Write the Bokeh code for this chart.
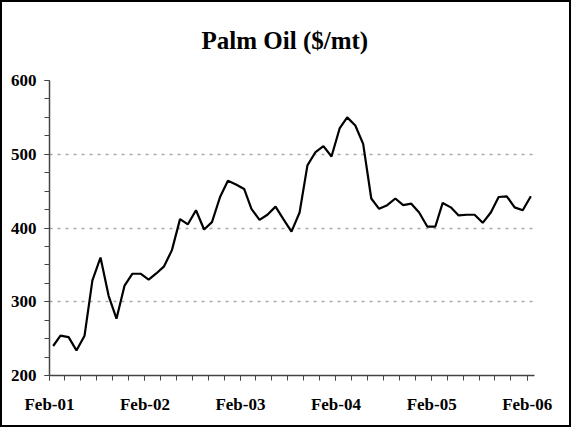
import datetime as dt
from bokeh.plotting import figure
from bokeh.models import FixedTicker, Range1d, ColumnDataSource
from bokeh.embed import file_html
from bokeh.resources import INLINE

title_text = "Palm Oil ($/mt)"
start_year = 2001
start_month = 2
# monthly palm oil prices, Feb-01 .. Feb-06 ($/mt)
prices = [240, 254, 252, 234, 254, 329, 360, 308, 277, 322,
          338, 338, 330, 338, 348, 370, 412, 405, 424, 398,
          408, 442, 464, 459, 453, 426, 411, 418, 429, 412,
          395, 421, 485, 503, 511, 497, 535, 550, 539, 514,
          440, 426, 431, 440, 431, 433, 421, 402, 402, 434,
          428, 417, 418, 418, 407, 421, 442, 443, 428, 424,
          443]
tick_labels = ["Feb-01", "Feb-02", "Feb-03", "Feb-04", "Feb-05", "Feb-06"]
y_ticks = [200, 300, 400, 500, 600]


def month_date(i, day=1):
    m = (start_month - 1) + i
    return dt.datetime(start_year + m // 12, m % 12 + 1, day)


def ms(d):
    return (d - dt.datetime(1970, 1, 1)).total_seconds() * 1000.0


dates = [month_date(i, 15) for i in range(len(prices))]
src = ColumnDataSource(dict(x=dates, y=prices))

major = [ms(month_date(12 * k)) for k in range(len(tick_labels))]
minor = [ms(month_date(i)) for i in range(0, 12 * (len(tick_labels) - 1) + 1, 2)]

p = figure(width=571, height=427, x_axis_type="datetime",
           output_backend="svg", toolbar_location=None,
           min_border_left=47, min_border_right=39,
           min_border_top=78, min_border_bottom=54)
p.styles = {"border": "2px solid black"}
p.x_range = Range1d(ms(month_date(0)), ms(month_date(len(prices))))
p.y_range = Range1d(200, 600)

p.title.text = title_text
p.title.align = "left"
p.title.offset = 152
p.title.vertical_align = "top"
p.title.text_font = "Liberation Serif"
p.title.text_font_size = "25px"
p.title.text_font_style = "bold"
p.title.text_color = "black"
p.title.standoff = 49

p.line("x", "y", source=src, line_color="black", line_width=2.2)

p.xaxis.ticker = FixedTicker(ticks=major, minor_ticks=minor)
p.xaxis.major_label_overrides = {int(t): lab for t, lab in zip(major, tick_labels)}
p.yaxis.ticker = FixedTicker(ticks=y_ticks, minor_ticks=list(range(200, 601, 25)))

for ax in (p.xaxis[0], p.yaxis[0]):
    ax.axis_line_color = "#444444"
    ax.axis_line_width = 1.5
    ax.major_tick_line_color = "#444444"
    ax.minor_tick_line_color = "#444444"
    ax.major_tick_in = 0
    ax.major_tick_out = 5
    ax.minor_tick_in = 0
    ax.minor_tick_out = 5
    ax.major_label_text_font = "Liberation Serif"
    ax.major_label_text_font_style = "bold"
    ax.major_label_text_font_size = "17px"
    ax.major_label_text_color = "black"
p.yaxis.major_label_standoff = 8
p.xaxis.major_label_standoff = 14

p.xgrid.grid_line_color = None
p.ygrid.grid_line_color = "#aaaaaa"
p.ygrid.grid_line_dash = "3 5"
p.ygrid.grid_line_width = 1.5
p.outline_line_color = None

open("out.html", "w").write(file_html(p, INLINE))
